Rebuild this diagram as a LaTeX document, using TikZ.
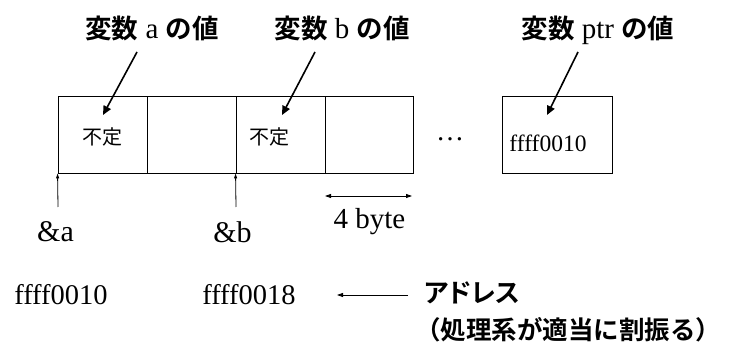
\documentclass[tikz,border=0pt]{standalone}
\usepackage{fontspec}
\setmainfont{Liberation Serif}
\newfontfamily\cjk{Noto Sans CJK JP}[BoldFont={Noto Sans CJK JP Bold}]
\newfontfamily\cjkp{Noto Sans CJK JP}[BoldFont={Noto Sans CJK JP Bold},RawFeature=+palt]
\usetikzlibrary{arrows.meta}
\begin{document}
\begin{tikzpicture}[x=1pt,y=-1pt,
  cell/.style={draw,line width=0.9pt,minimum width=89pt,minimum height=77pt,inner sep=0pt},
  head/.style={font=\fontsize{26.5}{30}\selectfont\cjk\bfseries,inner sep=0pt},
  valtxt/.style={font=\fontsize{20}{24}\selectfont\cjk,inner sep=0pt},
  lat/.style={font=\fontsize{29}{32}\selectfont,inner sep=0pt},
  ptrarrow/.style={-{Triangle[length=9pt,width=8pt]},line width=1.6pt},
  addrarrow/.style={-{Triangle[length=5pt,width=3pt]},line width=0.8pt},
  dimarrow/.style={{Triangle[length=6pt,width=4pt]}-{Triangle[length=6pt,width=4pt]},line width=0.8pt}]
\useasboundingbox (0,0) rectangle (733,352);
% memory cells
\node[cell] (c1) at (102.5,134.5) {};
\node[cell] (c2) at (191.5,134.5) {};
\node[cell] (c3) at (280.5,134.5) {};
\node[cell,minimum width=88pt] (c4) at (369,134.5) {};
\node[cell,minimum width=110pt] (cp) at (557,134.5) {};
\node[valtxt] (v1) at (102,137) {不定};
\node[valtxt] (v3) at (269,137) {不定};
\node[font=\fontsize{23.5}{26}\selectfont,inner sep=0pt] (vp) at (548,143) {ffff0010};
\node[font=\fontsize{28}{32}\selectfont,inner sep=0pt,anchor=base] (dots) at (450,141) {…};
% headers
\node[head] (ha) at (152,28) {変数{\mdseries\rmfamily\fontsize{29}{30}\selectfont\ a\ }の値};
\node[head] (hb) at (342,28) {変数{\mdseries\rmfamily\fontsize{29}{30}\selectfont\ b\ }の値};
\node[head] (hp) at (598,30) {変数{\mdseries\rmfamily\fontsize{29}{30}\selectfont\ ptr\ }の値};
\coordinate (hae) at (137,52);
\coordinate (hbe) at (315,52);
\coordinate (hpe) at (578,52);
\coordinate (va) at (103,115);
\coordinate (vb) at (282,115);
\coordinate (vpp) at (547,115);
\draw[ptrarrow] (hae) -- (va);
\draw[ptrarrow] (hbe) -- (vb);
\draw[ptrarrow] (hpe) -- (vpp);
% address arrows
\coordinate (aa) at (58,207);
\coordinate (ab) at (236,207);
\draw[addrarrow] (aa) -- (c1.south west);
\draw[addrarrow] (ab) -- (c3.south west);
\node[lat,font=\fontsize{30}{32}\selectfont] (la) at (55.5,232) {\&a};
\node[lat,font=\fontsize{30}{32}\selectfont] (lb) at (232.5,232) {\&b};
% 4 byte
\coordinate (d1) at (325,196);
\coordinate (d2) at (412,196);
\draw[dimarrow] (d1) -- (d2);
\node[lat] (four) at (369.5,222) {4 byte};
% addresses
\node[lat,font=\fontsize{28.5}{32}\selectfont] (ad1) at (61,295) {ffff0010};
\node[lat,font=\fontsize{28.5}{32}\selectfont] (ad2) at (249,295) {ffff0018};
\node[font=\fontsize{26}{30}\selectfont\cjkp\bfseries,inner sep=0pt,anchor=west] (adr) at (424,293) {アドレス};
\node[font=\fontsize{25.5}{30}\selectfont\cjk\bfseries,inner sep=0pt,anchor=west] (note) at (415,330) {（処理系が適当に割振る）};
\coordinate (arr) at (408,295);
\draw[addrarrow,-{Triangle[length=6pt,width=4pt]}] (arr) -- (ad2.east -| 337,0);
\end{tikzpicture}
\end{document}
